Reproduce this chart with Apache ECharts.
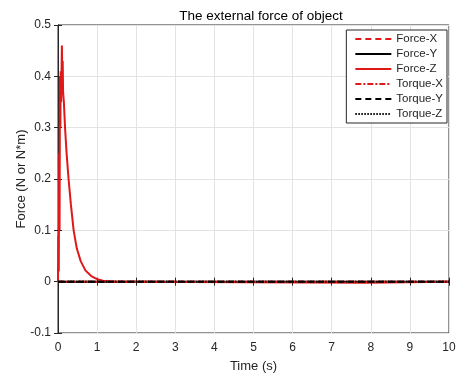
<html>
<head>
<meta charset="utf-8">
<script src="https://cdn.jsdelivr.net/npm/echarts@6/dist/echarts.min.js"></script>
<style>
  html, body { margin: 0; padding: 0; background: #fff; }
  #chart { width: 459px; height: 376px; }
</style>
</head>
<body>
<div id="chart"></div>
<script>
// values
var seriesNames = ['Force-X', 'Force-Y', 'Force-Z', 'Torque-X', 'Torque-Y', 'Torque-Z'];
var forceZTime  = [0, 0.01, 0.02, 0.03, 0.04, 0.05, 0.06, 0.07, 0.08, 0.1, 0.11, 0.12, 0.13, 0.15, 0.18, 0.22, 0.27, 0.33, 0.4, 0.48, 0.58, 0.7, 0.85, 1.0, 1.15, 1.3, 1.5, 1.65, 1.7, 7.9, 7.95, 10];
var forceZValue = [0, 0.09, 0.02, 0.25, 0.1, 0.4, 0.3, 0.41, 0.35, 0.46, 0.39, 0.43, 0.37, 0.35, 0.3, 0.25, 0.2, 0.15, 0.1, 0.065, 0.04, 0.022, 0.011, 0.005, 0.002, 0.001, 0, 0, -0.002, -0.002, 0, 0];
var flatTime  = [0, 10];
var flatValue = [0, 0];

window.onload = function () {
    var chart = echarts.init(document.getElementById('chart'));

    function pairs(xs, ys) {
        return xs.map(function (x, i) { return [x, ys[i]]; });
    }

    var styles = [
        { color: '#e01818', type: [6, 4] },
        { color: '#000000', type: 'solid' },
        { color: '#e01818', type: 'solid' },
        { color: '#e01818', type: [6, 2, 2, 2] },
        { color: '#000000', type: [6, 4] },
        { color: '#000000', type: [1.5, 1.5] }
    ];

    var series = seriesNames.map(function (name, i) {
        var data = name === 'Force-Z' ? pairs(forceZTime, forceZValue) : pairs(flatTime, flatValue);
        return {
            name: name,
            type: 'line',
            data: data,
            symbol: 'none',
            legendIcon: 'none',
            animation: false,
            color: styles[i].color,
            lineStyle: { color: styles[i].color, width: 2, type: styles[i].type }
        };
    });

    var labelStyle = { color: '#262626', fontSize: 12, fontFamily: 'Liberation Sans' };
    var boxAxis = { lineStyle: { color: '#262626' } };
    var innerTick = { inside: true, length: 4, lineStyle: { color: '#262626' } };

    var option = {
        backgroundColor: '#ffffff',
        title: {
            text: 'The external force of object',
            left: 256, top: 4, textAlign: 'center',
            textStyle: { fontSize: 13.5, fontWeight: 'normal', color: '#000', fontFamily: 'Liberation Sans' }
        },
        grid: {
            left: 58, right: 10, top: 25, bottom: 43,
            outerBoundsMode: 'none',
            show: true, borderColor: '#262626', borderWidth: 1, backgroundColor: '#fff'
        },
        legend: {
            data: seriesNames,
            orient: 'vertical',
            right: 12, top: 30,
            itemWidth: 36, itemHeight: 12, itemGap: 3,
            padding: [3, 4, 3, 8],
            backgroundColor: '#fff',
            borderColor: '#262626', borderWidth: 1,
            itemStyle: { opacity: 0 },
            textStyle: { color: '#262626', fontSize: 11.5, fontFamily: 'Liberation Sans' }
        },
        xAxis: [{
            type: 'value', min: 0, max: 10, interval: 1,
            name: 'Time (s)', nameLocation: 'middle', nameGap: 27,
            nameMoveOverlap: false,
            nameTextStyle: { color: '#262626', fontSize: 13, fontFamily: 'Liberation Sans' },
            axisLine: boxAxis, axisTick: innerTick,
            axisLabel: Object.assign({ margin: 9 }, labelStyle),
            splitLine: { show: true, lineStyle: { color: '#e3e3e3' } }
        }, {
            type: 'value', min: 0, max: 10, interval: 1, position: 'top',
            axisLine: boxAxis, axisTick: innerTick,
            axisLabel: { show: false }, splitLine: { show: false }
        }],
        yAxis: [{
            type: 'value', min: -0.1, max: 0.5, interval: 0.1,
            name: 'Force (N or N*m)', nameLocation: 'middle', nameGap: 30,
            nameMoveOverlap: false,
            nameTextStyle: { color: '#262626', fontSize: 13, fontFamily: 'Liberation Sans' },
            axisLine: boxAxis, axisTick: innerTick,
            axisLabel: Object.assign({
                margin: 7,
                formatter: function (v) { return String(parseFloat(v.toFixed(1))); }
            }, labelStyle),
            splitLine: { show: true, lineStyle: { color: '#e3e3e3' } }
        }, {
            type: 'value', min: -0.1, max: 0.5, interval: 0.1, position: 'right',
            axisLine: boxAxis, axisTick: innerTick,
            axisLabel: { show: false }, splitLine: { show: false }
        }],
        series: series
    };

    chart.setOption(option);
};
</script>
</body>
</html>
